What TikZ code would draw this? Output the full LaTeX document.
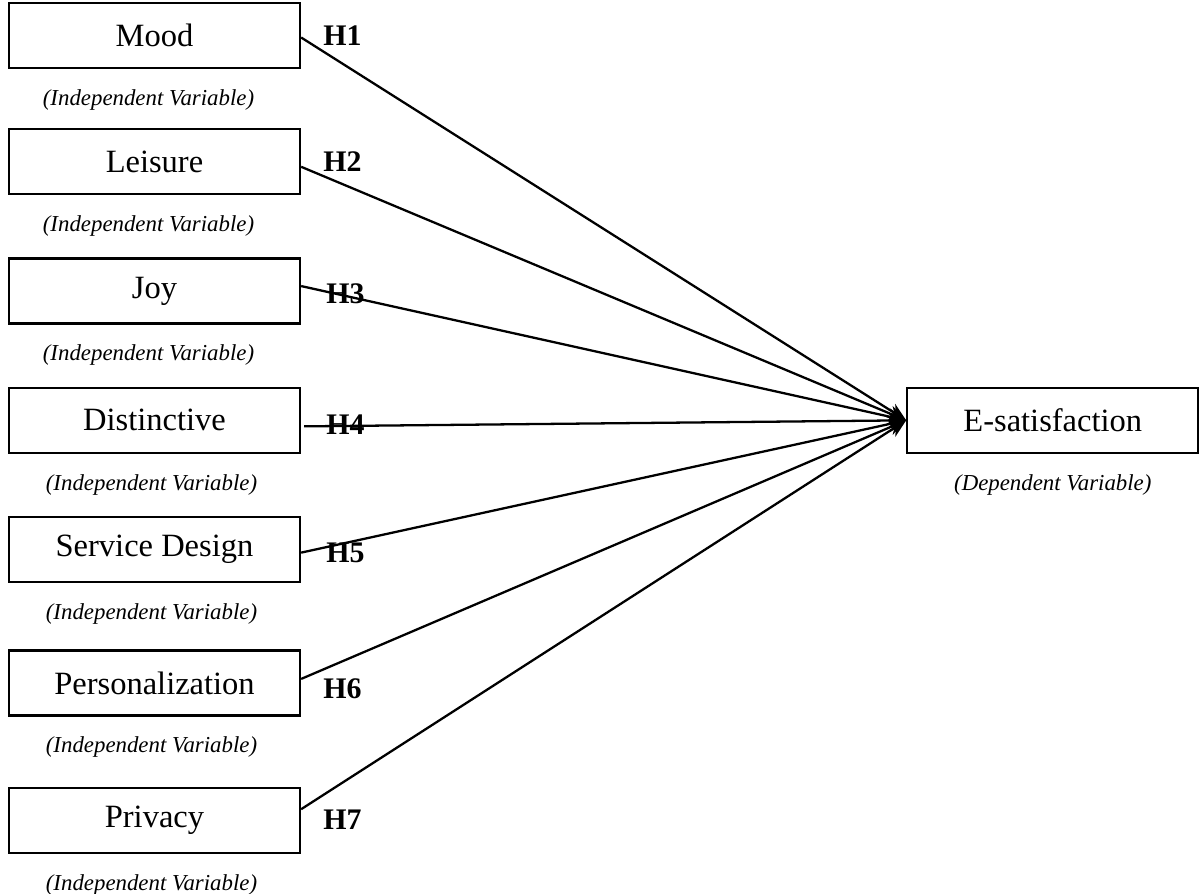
\documentclass[tikz,border=0pt]{standalone}
\usepackage{fontspec}
\setmainfont{Liberation Serif}
\usetikzlibrary{arrows.meta, positioning}

\begin{document}
\begin{tikzpicture}[
    varbox/.style={rectangle, draw=black, line width=1.3pt, minimum width=5.82cm, minimum height=1.3cm, inner sep=0pt, font=\fontsize{18.5}{22}\selectfont},
    vartag/.style={inner sep=0pt, font=\itshape\fontsize{13}{15}\selectfont},
    hyp/.style={inner sep=0pt, font=\bfseries\fontsize{17}{20}\selectfont},
    arrow/.style={line width=1.3pt, -{Stealth[length=0.36cm, width=0.32cm]}, black}
]
\useasboundingbox (0,0) rectangle (24.02,-17.88);

\node (mood) [varbox] at (3.09,-0.71) {Mood};
\node (leisure) [varbox, below=1.18cm of mood] {Leisure};
\node (joy) [varbox, below=1.24cm of leisure] {Joy};
\node (dist) [varbox, below=1.24cm of joy] {Distinctive};
\node (servdes) [varbox, below=1.24cm of dist] {Service Design};
\node (pers) [varbox, below=1.32cm of servdes] {Personalization};
\node (priv) [varbox, below=1.40cm of pers] {Privacy};

\node (esat) [varbox, right=12.1cm of dist] {E-satisfaction};

% captions
\node (moodtag) [vartag, below=0.4cm of mood, xshift=-0.12cm] {(Independent Variable)};
\node (leisuretag) [vartag, below=0.4cm of leisure, xshift=-0.12cm] {(Independent Variable)};
\node (joytag) [vartag, below=0.4cm of joy, xshift=-0.12cm] {(Independent Variable)};
\node (disttag) [vartag, below=0.4cm of dist, xshift=-0.06cm] {(Independent Variable)};
\node (servdestag) [vartag, below=0.4cm of servdes, xshift=-0.06cm] {(Independent Variable)};
\node (perstag) [vartag, below=0.4cm of pers, xshift=-0.06cm] {(Independent Variable)};
\node (privtag) [vartag, below=0.4cm of priv, xshift=-0.06cm] {(Independent Variable)};
\node (esattag) [vartag, below=0.4cm of esat] {(Dependent Variable)};

% hypotheses
\node (h1) [hyp, right=0.44cm of mood] {H1};
\node (h2) [hyp, right=0.44cm of leisure] {H2};
\node (h3) [hyp, right=0.5cm of joy, yshift=-0.06cm] {H3};
\node (h4) [hyp, right=0.5cm of dist, yshift=-0.08cm] {H4};
\node (h5) [hyp, right=0.5cm of servdes, yshift=-0.06cm] {H5};
\node (h6) [hyp, right=0.44cm of pers, yshift=-0.12cm] {H6};
\node (h7) [hyp, right=0.44cm of priv] {H7};

\draw[arrow] ([yshift=-0.04cm]mood.east) -- (esat.west);
\draw[arrow] ([yshift=-0.1cm]leisure.east) -- (esat.west);
\draw[arrow] ([yshift=0.1cm]joy.east) -- (esat.west);
\draw[arrow] ([xshift=0.06cm, yshift=-0.12cm]dist.east) -- (esat.west);
\draw[arrow] ([yshift=-0.06cm]servdes.east) -- (esat.west);
\draw[arrow] ([yshift=0.08cm]pers.east) -- (esat.west);
\draw[arrow] ([yshift=0.22cm]priv.east) -- (esat.west);

\end{tikzpicture}
\end{document}
